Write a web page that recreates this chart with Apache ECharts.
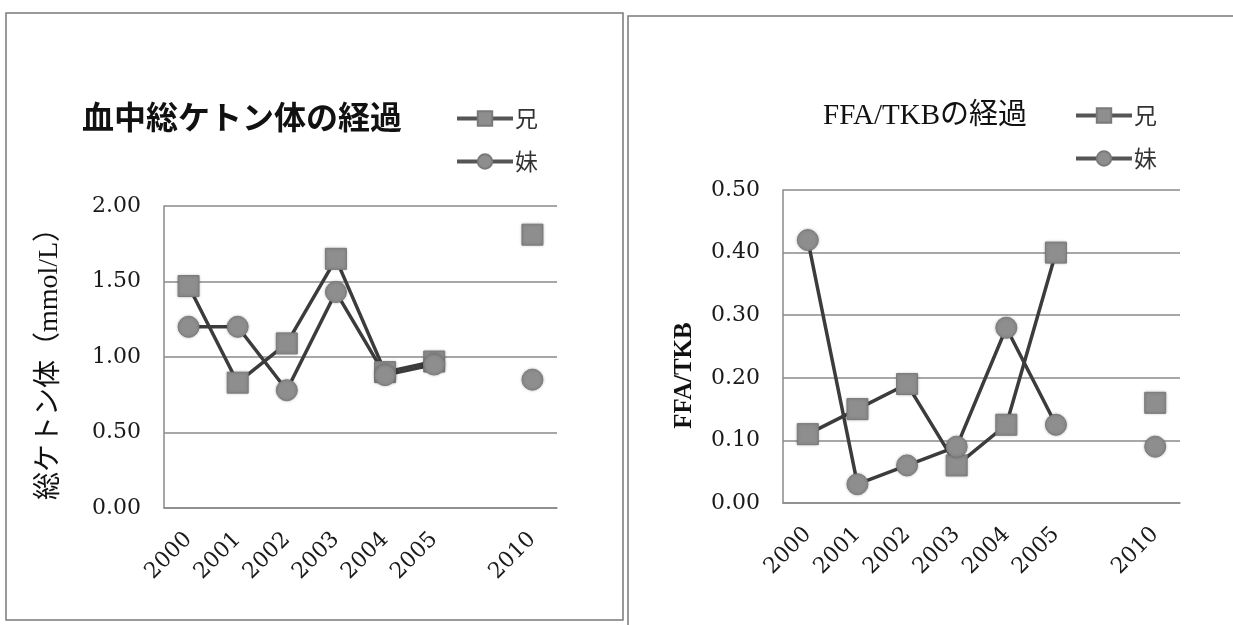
<!DOCTYPE html>
<html>
<head>
<meta charset="utf-8">
<script src="https://cdn.jsdelivr.net/npm/echarts@6/dist/echarts.min.js"></script>
<style>
  html, body { margin: 0; padding: 0; background: #fff; }
  #chart { width: 1233px; height: 625px; }
</style>
</head>
<body>
<div id="chart"></div>
<script>
// categories (blank slot between 2005 and 2010 as in the original sheet)
const years = ['2000', '2001', '2002', '2003', '2004', '2005', '', '2010'];
const seriesNames = ['兄', '妹'];

// 血中総ケトン体 (mmol/L)
const ketoneBrother = [1.47, 0.83, 1.09, 1.65, 0.90, 0.97, null, 1.81];
const ketoneSister = [1.20, 1.20, 0.78, 1.43, 0.88, 0.95, null, 0.85];

// FFA/TKB
const ratioBrother = [0.11, 0.15, 0.19, 0.06, 0.125, 0.40, null, 0.16];
const ratioSister = [0.42, 0.03, 0.06, 0.09, 0.28, 0.125, null, 0.09];

// y axis ticks
const ketoneAxis = { min: 0, max: 2, step: 0.5 };
const ratioAxis = { min: 0, max: 0.5, step: 0.1 };

const serif = "'DejaVu Serif', 'Liberation Serif', serif";
const jp = "'Noto Sans CJK JP', sans-serif";
const gridColor = '#8a8a8a';
const lineColor = '#3c3c3c';
const markColor = '#8e8e8e';

const chart = echarts.init(document.getElementById('chart'));

function xAxisOf(gridIndex) {
  return {
    type: 'category',
    gridIndex: gridIndex,
    data: years,
    boundaryGap: true,
    axisTick: { show: false },
    axisLine: { lineStyle: { color: gridColor, width: 1.5 } },
    axisLabel: {
      interval: 0,
      rotate: 45,
      margin: 28,
      color: '#1a1a1a',
      fontFamily: serif,
      fontSize: 22
    }
  };
}

function yAxisOf(gridIndex, ax, name, nameStyle, nameGap) {
  return {
    type: 'value',
    gridIndex: gridIndex,
    min: ax.min,
    max: ax.max,
    interval: ax.step,
    name: name,
    nameLocation: 'middle',
    nameRotate: 90,
    nameGap: nameGap,
    nameTextStyle: nameStyle,
    axisTick: { show: false },
    axisLine: { show: true, lineStyle: { color: gridColor, width: 1.5 } },
    splitLine: { lineStyle: { color: gridColor, width: 1.5 } },
    axisLabel: {
      margin: 23,
      color: '#1a1a1a',
      fontFamily: serif,
      fontSize: 22,
      formatter: v => v.toFixed(2)
    }
  };
}

function lineSeries(name, data, idx, symbol) {
  return {
    name: name,
    type: 'line',
    xAxisIndex: idx,
    yAxisIndex: idx,
    data: data,
    symbol: symbol,
    symbolSize: 21,
    showSymbol: true,
    showAllSymbol: true,
    connectNulls: false,
    lineStyle: { color: lineColor, width: 3.5 },
    itemStyle: {
      color: markColor,
      borderColor: '#7a7a7a',
      borderWidth: 1,
      shadowBlur: 3,
      shadowColor: 'rgba(0,0,0,0.25)'
    },
    animation: false
  };
}

function legendAt(left, top) {
  return {
    orient: 'vertical',
    left: left,
    top: top,
    itemWidth: 56,
    itemHeight: 18,
    itemGap: 20,
    padding: 0,
    data: seriesNames,
    lineStyle: { width: 4, color: '#555' },
    textStyle: { fontFamily: jp, fontSize: 23, color: '#333', padding: [0, 0, 0, -3] }
  };
}

const option = {
  animation: false,
  graphic: [
    { type: 'rect', shape: { x: 6, y: 13, width: 617, height: 607 },
      style: { fill: 'none', stroke: '#7a7a7a', lineWidth: 1.5 } },
    { type: 'rect', shape: { x: 628, y: 16, width: 700, height: 700 },
      style: { fill: 'none', stroke: '#7a7a7a', lineWidth: 1.5 } }
  ],
  title: [
    {
      text: '血中総ケトン体の経過',
      left: 82, top: 101, padding: 0,
      textStyle: { fontFamily: jp, fontSize: 32, fontWeight: 'bold', color: '#111' }
    },
    {
      text: 'FFA/TKBの経過',
      left: 823, top: 102, padding: 0,
      textStyle: { fontFamily: "'Liberation Serif', 'Noto Sans CJK JP', serif", fontSize: 29, fontWeight: 'normal', color: '#111' }
    }
  ],
  legend: [legendAt(455, 107), legendAt(1074, 104)],
  grid: [
    { left: 164, top: 206, width: 393, height: 302 },
    { left: 783, top: 190, width: 397, height: 313 }
  ],
  xAxis: [xAxisOf(0), xAxisOf(1)],
  yAxis: [
    yAxisOf(0, ketoneAxis, '総ケトン体（mmol/L）',
      { fontFamily: "'Liberation Serif', 'Noto Sans CJK JP', serif", fontSize: 28, color: '#111' }, 100),
    yAxisOf(1, ratioAxis, 'FFA/TKB',
      { fontFamily: "'Liberation Serif', serif", fontSize: 25, fontWeight: 'bold', color: '#111', padding: [0, 58, 0, 0] }, 86)
  ],
  series: [
    lineSeries('兄', ketoneBrother, 0, 'rect'),
    lineSeries('妹', ketoneSister, 0, 'circle'),
    lineSeries('兄', ratioBrother, 1, 'rect'),
    lineSeries('妹', ratioSister, 1, 'circle')
  ]
};

chart.setOption(option);
</script>
</body>
</html>
